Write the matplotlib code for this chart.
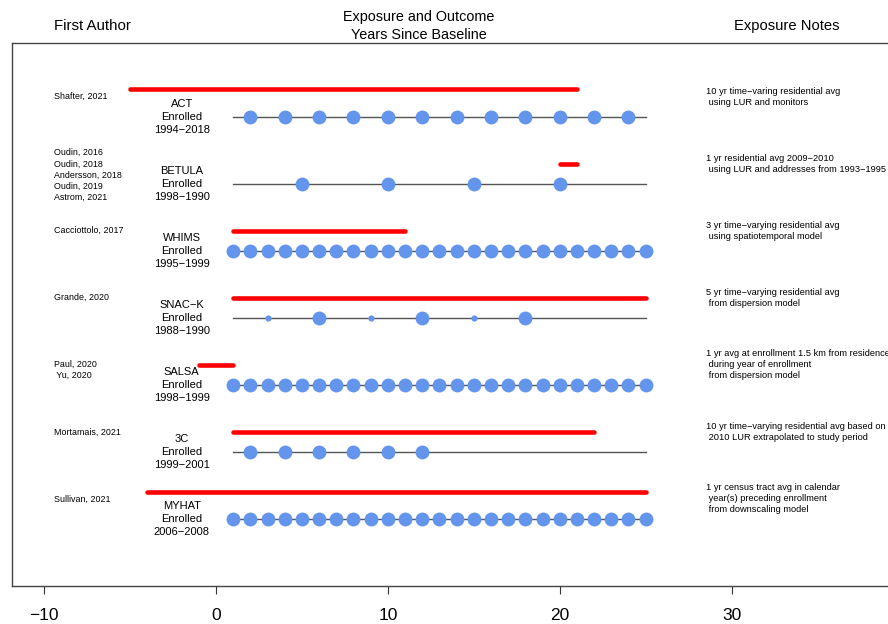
import matplotlib
matplotlib.use("Agg")
import matplotlib.pyplot as plt
import numpy as np

plt.rcParams['font.family'] = ['Liberation Sans', 'DejaVu Sans']

studies = ['ACT', 'BETULA', 'WHIMS', 'SNAC\u2212K', 'SALSA', '3C', 'MYHAT']
enrolled = ['1994\u22122018', '1998\u22121990', '1995\u22121999', '1988\u22121990',
            '1998\u22121999', '1999\u22122001', '2006\u22122008']
authors = ['Shafter, 2021',
           'Oudin, 2016\nOudin, 2018\nAndersson, 2018\nOudin, 2019\nAstrom, 2021',
           'Cacciottolo, 2017',
           'Grande, 2020',
           'Paul, 2020\n Yu, 2020',
           'Mortamais, 2021',
           'Sullivan, 2021']
notes = ['10 yr time\u2212varing residential avg\n using LUR and monitors',
         '1 yr residential avg 2009\u22122010\n using LUR and addresses from 1993\u22121995',
         '3 yr time\u2212varying residential avg\n using spatiotemporal model',
         '5 yr time\u2212varying residential avg\n from dispersion model',
         '1 yr avg at enrollment 1.5 km from residence\n during year of enrollment\n from dispersion model',
         '10 yr time\u2212varying residential avg based on\n 2010 LUR extrapolated to study period',
         '1 yr census tract avg in calendar\n year(s) preceding enrollment\n from downscaling model']

# follow-up window (years since baseline)
follow_start = [1, 1, 1, 1, 1, 1, 1]
follow_end = [25, 25, 25, 25, 25, 25, 25]

# exposure window
expo_start = [-5, 20, 1, 1, -1, 1, -4]
expo_end = [21, 21, 11, 25, 1, 22, 25]

# outcome assessment visits
visits = [list(range(2, 25, 2)),
          [5, 10, 15, 20],
          list(range(1, 26)),
          [6, 12, 18],
          list(range(1, 26)),
          [2, 4, 6, 8, 10, 12],
          list(range(1, 26))]
small_visits = [[], [], [], [3, 9, 15], [], [], []]

n = len(studies)
rows = np.arange(n, 0, -1)
expo_offset = [0.42, 0.3, 0.3, 0.3, 0.3, 0.3, 0.4]
author_offset = [0.3, 0.13, 0.3, 0.3, 0.22, 0.3, 0.3]

fig = plt.figure(figsize=(8.88, 6.24), dpi=100)
ax = fig.add_axes([12/888, 38/624, 888/888, 543/624])

blue = '#6495ED'
for i in range(n):
    y = rows[i]
    ax.plot([follow_start[i], follow_end[i]], [y, y], color='#555555', lw=1.0, zorder=1)
    ax.plot(visits[i], [y]*len(visits[i]), 'o', color=blue, ms=10, mec='none', zorder=2)
    if small_visits[i]:
        ax.plot(small_visits[i], [y]*len(small_visits[i]), 'o', color=blue, ms=4.5,
                mec='none', zorder=2)
    ye = y + expo_offset[i]
    ax.plot([expo_start[i], expo_end[i]], [ye, ye], color='red', lw=3.3,
            solid_capstyle='round', zorder=3)
    ax.text(-2, y, studies[i] + '\nEnrolled\n' + enrolled[i], ha='center', va='center',
            fontsize=8, linespacing=1.36)
    ax.text(-9.45, y + author_offset[i], authors[i], ha='left', va='center',
            fontsize=6.4, linespacing=1.32)
    ax.text(28.5, y + 0.3, notes[i], ha='left', va='center', fontsize=6.65,
            linespacing=1.3, clip_on=False)

ax.set_xlim(-11.87, 39.8)
ax.set_ylim(0, n + 1.1)
ax.set_yticks([])
ax.set_xticks([-10, 0, 10, 20, 30])
ax.set_xticklabels(['\u221210', '0', '10', '20', '30'])
ax.tick_params(axis='x', length=6, width=0.8, labelsize=12.5, pad=10, color='#333333')
for s in ax.spines.values():
    s.set_color('#444444')
    s.set_linewidth(1.0)

fig.text(54/888, 1 - 26/624, 'First Author', ha='left', va='center', fontsize=10.8)
fig.text(419/888, 1 - 26/624, 'Exposure and Outcome\nYears Since Baseline',
         ha='center', va='center', fontsize=10.4, linespacing=1.4)
fig.text(787/888, 1 - 26/624, 'Exposure Notes', ha='center', va='center', fontsize=10.6)

fig.savefig('out.png', dpi=100)
